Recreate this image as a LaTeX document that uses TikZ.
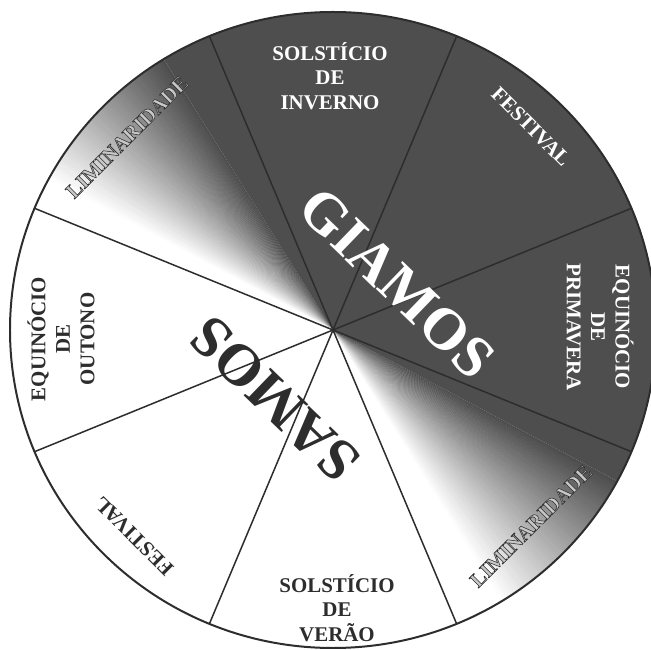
\documentclass[tikz,border=0pt]{standalone}
\usepackage{fontspec}
\setmainfont{Liberation Serif}
\usetikzlibrary{calc}
\definecolor{wheeldark}{RGB}{78,78,78}
\definecolor{wheelink}{RGB}{45,45,45}
\definecolor{wheelpale}{RGB}{200,200,200}
% filled and stroked glyphs
\newcommand{\edgedtext}[1]{\special{pdf:literal direct 2 Tr 0.55 w 0.176 G}#1\special{pdf:literal direct 0 Tr}}

\begin{document}
\begin{tikzpicture}[x=1bp,y=1bp]
\tikzset{
  sectorlabel/.style={align=center,inner sep=0pt,font=\fontsize{21}{24.5}\selectfont\bfseries},
  darklabel/.style={sectorlabel,text=wheelink},
  lightlabel/.style={sectorlabel,text=white},
  edgedlabel/.style={sectorlabel,text=wheelpale},
  bigname/.style={inner sep=0pt,font=\fontsize{59}{60}\selectfont\bfseries},
  divider/.style={draw=wheelink,line width=1.5pt,line cap=round},
  rim/.style={draw=wheelink,line width=2pt}
}
\useasboundingbox (0,0) rectangle (651,650);
\coordinate (C) at (333,320);
% background: white half, dark half, conical fades between them
\begin{scope}
\clip (C) ellipse [x radius=323,y radius=318];
\fill[white] (C) ellipse [x radius=323,y radius=318];
\fill[wheeldark] (C) -- ($(C)+(-28:500)$) -- ($(C)+(47:500)$) -- ($(C)+(122:500)$) -- cycle;
\foreach \a in {122,122.5,...,152}{
  \pgfmathtruncatemacro{\k}{100*(152-\a)/30}
  \fill[wheeldark!\k!white] (C) -- ($(C)+(\a:500)$) -- ($(C)+(\a+0.6:500)$) -- cycle;
}
\foreach \a in {-58,-57.5,...,-28}{
  \pgfmathtruncatemacro{\k}{100*(\a+58)/30}
  \fill[wheeldark!\k!white] (C) -- ($(C)+(\a-0.6:500)$) -- ($(C)+(\a:500)$) -- cycle;
}
\end{scope}
% rim points of the eight dividers
\coordinate (r_0) at ($(C)+(22.5:323 and 318)$);
\coordinate (r_1) at ($(C)+(67.5:323 and 318)$);
\coordinate (r_2) at ($(C)+(112.5:323 and 318)$);
\coordinate (r_3) at ($(C)+(157.5:323 and 318)$);
\coordinate (r_4) at ($(C)+(202.5:323 and 318)$);
\coordinate (r_5) at ($(C)+(247.5:323 and 318)$);
\coordinate (r_6) at ($(C)+(292.5:323 and 318)$);
\coordinate (r_7) at ($(C)+(337.5:323 and 318)$);
\draw[divider] (C) -- (r_0);
\draw[divider] (C) -- (r_1);
\draw[divider] (C) -- (r_2);
\draw[divider] (C) -- (r_3);
\draw[divider] (C) -- (r_4);
\draw[divider] (C) -- (r_5);
\draw[divider] (C) -- (r_6);
\draw[divider] (C) -- (r_7);
\draw[rim] (C) ellipse [x radius=323,y radius=318];
% sector labels
\node[lightlabel] (t_inverno) at (330,574) {SOLSTÍCIO\\DE\\INVERNO};
\node[lightlabel,rotate=-45] (t_festival1) at (531,523) {FESTIVAL};
\node[lightlabel,rotate=-90] (t_primavera) at (600,323) {EQUINÓCIO\\DE\\PRIMAVERA};
\node[edgedlabel,rotate=45] (t_limiar1) at (531,124) {\edgedtext{LIMINARIDADE}};
\node[darklabel] (t_verao) at (337,42) {SOLSTÍCIO\\DE\\VERÃO};
\node[darklabel,rotate=135] (t_festival2) at (134,114) {FESTIVAL};
\node[darklabel,rotate=90] (t_outono) at (61,311) {EQUINÓCIO\\DE\\OUTONO};
\node[edgedlabel,rotate=45] (t_limiar2) at (127,513) {\edgedtext{LIMINARIDADE}};
% the two halves
\node[bigname,text=white,rotate=-44] (t_giamos) at (397,367) {GIAMOS};
\node[bigname,text=wheelink,rotate=136] (t_samos) at (275,251) {SAMOS};
\end{tikzpicture}
\end{document}
